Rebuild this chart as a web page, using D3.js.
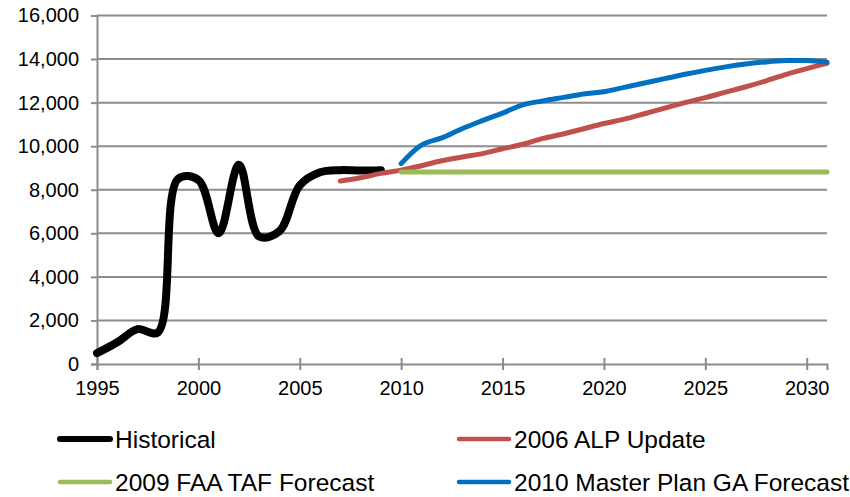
<!DOCTYPE html>
<html>
<head>
<meta charset="utf-8">
<script src="https://cdn.jsdelivr.net/npm/d3@7"></script>
<style>
  body { margin: 0; background: #fff; }
  svg { display: block; }
  text { font-family: "Liberation Sans", Arial, sans-serif; fill: #000; }
</style>
</head>
<body>
<svg id="chart" width="850" height="497"></svg>
<script>
// Annual operations by source
const historicalYears = [1995, 1996, 1997, 1998, 1999, 2000, 2001, 2002, 2003, 2004, 2005, 2006, 2007, 2008, 2009];
const historical = [500, 1000, 1600, 1450, 8500, 8450, 6000, 9150, 5850, 6100, 8200, 8800, 8900, 8880, 8900];

const alpYears = [2007, 2008, 2009, 2010, 2011, 2012, 2013, 2014, 2015, 2016, 2017, 2018, 2019,
                  2020, 2021, 2022, 2023, 2024, 2025, 2026, 2027, 2028, 2029, 2030, 2031];
const alpUpdate = [8400, 8550, 8750, 8900, 9100, 9330, 9500, 9660, 9880, 10090, 10360, 10560, 10800,
                   11040, 11240, 11490, 11750, 12000, 12230, 12480, 12730, 13000, 13300, 13560, 13800];

const forecastYears = [2010, 2011, 2012, 2013, 2014, 2015, 2016, 2017, 2018, 2019, 2020,
                       2021, 2022, 2023, 2024, 2025, 2026, 2027, 2028, 2029, 2030, 2031];
const tafForecast = [8820, 8820, 8820, 8820, 8820, 8820, 8820, 8820, 8820, 8820, 8820,
                     8820, 8820, 8820, 8820, 8820, 8820, 8820, 8820, 8820, 8820, 8820];
const masterPlan = [9200, 10050, 10380, 10800, 11170, 11520, 11900, 12080, 12240, 12400, 12500,
                    12700, 12900, 13100, 13300, 13480, 13640, 13770, 13870, 13930, 13930, 13850];

const xTickValues = [1995, 2000, 2005, 2010, 2015, 2020, 2025, 2030];
const yTickValues = [0, 2000, 4000, 6000, 8000, 10000, 12000, 14000, 16000];

const seriesNames = ["Historical", "2006 ALP Update", "2009 FAA TAF Forecast", "2010 Master Plan GA Forecast"];
const seriesColors = ["#000000", "#C0504D", "#9BBB59", "#0070C0"];

const series = [
  { name: seriesNames[0], color: seriesColors[0], width: 8, years: historicalYears, values: historical },
  { name: seriesNames[1], color: seriesColors[1], width: 5, years: alpYears, values: alpUpdate },
  { name: seriesNames[2], color: seriesColors[2], width: 5, years: forecastYears, values: tafForecast },
  { name: seriesNames[3], color: seriesColors[3], width: 5, years: forecastYears, values: masterPlan }
];

const svg = d3.select("#chart");
const plot = { left: 97, right: 827, top: 15.5, bottom: 364 };

const x = d3.scaleLinear().domain([1995, 2031]).range([plot.left, plot.right]);
const y = d3.scaleLinear().domain([0, 16000]).range([plot.bottom, plot.top]);

const gridColor = "#8c8c8c";

// horizontal gridlines
svg.append("g")
  .selectAll("line")
  .data(yTickValues.filter(v => v > 0))
  .join("line")
  .attr("x1", plot.left).attr("x2", plot.right)
  .attr("y1", d => y(d)).attr("y2", d => y(d))
  .attr("stroke", gridColor).attr("stroke-width", 2);

// y axis
const yAxis = svg.append("g")
  .attr("transform", `translate(${plot.left},0)`)
  .call(d3.axisLeft(y).tickValues(yTickValues).tickSize(6).tickPadding(12)
    .tickFormat(d3.format(",")));
yAxis.select(".domain").attr("stroke", gridColor).attr("stroke-width", 2);
yAxis.selectAll(".tick line").attr("stroke", gridColor).attr("stroke-width", 2);
yAxis.selectAll(".tick text").attr("font-size", 20).attr("font-family", "Liberation Sans, Arial, sans-serif");

// x axis
const xAxis = svg.append("g")
  .attr("transform", `translate(0,${plot.bottom})`)
  .call(d3.axisBottom(x).tickValues(xTickValues).tickSizeOuter(0).tickSize(6).tickPadding(11)
    .tickFormat(d3.format("d")));
xAxis.select(".domain").attr("stroke", gridColor).attr("stroke-width", 2);
xAxis.selectAll(".tick line").attr("stroke", gridColor).attr("stroke-width", 2).attr("y1", -6);
xAxis.selectAll(".tick text").attr("font-size", 20).attr("font-family", "Liberation Sans, Arial, sans-serif");

// series lines
const line = d3.line()
  .x(d => x(d[0]))
  .y(d => y(d[1]))
  .curve(d3.curveCatmullRom.alpha(0.5));

svg.append("g")
  .selectAll("path")
  .data(series)
  .join("path")
  .attr("d", s => line(s.years.map((yr, i) => [yr, s.values[i]])))
  .attr("fill", "none")
  .attr("stroke", s => s.color)
  .attr("stroke-width", s => s.width)
  .attr("stroke-linecap", "round")
  .attr("stroke-linejoin", "round");

// legend
const legendPos = [[58, 439], [457, 439], [58, 482], [457, 482]];
const legend = svg.append("g")
  .selectAll("g")
  .data(series)
  .join("g")
  .attr("transform", (s, i) => `translate(${legendPos[i][0]},${legendPos[i][1]})`);

legend.append("line")
  .attr("x1", 2).attr("x2", 52).attr("y1", 0).attr("y2", 0)
  .attr("stroke", s => s.color)
  .attr("stroke-width", (s, i) => i === 0 ? 6 : 4.5)
  .attr("stroke-linecap", "round");

legend.append("text")
  .attr("x", 57).attr("y", 9)
  .attr("font-size", 24.5)
  .text(s => s.name);
</script>
</body>
</html>
